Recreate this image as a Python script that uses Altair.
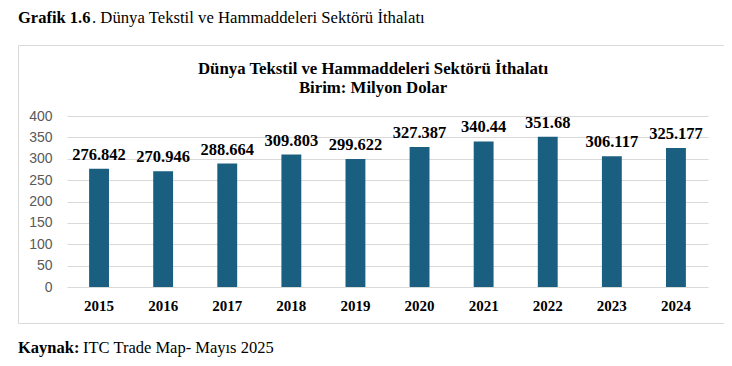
import altair as alt
import pandas as pd

# ---- data ----
years = ["2015", "2016", "2017", "2018", "2019", "2020", "2021", "2022", "2023", "2024"]
values = [276.842, 270.946, 288.664, 309.803, 299.622, 327.387, 340.44, 351.68, 306.117, 325.177]
value_labels = ["276.842", "270.946", "288.664", "309.803", "299.622",
                "327.387", "340.44", "351.68", "306.117", "325.177"]
y_ticks = [0, 50, 100, 150, 200, 250, 300, 350, 400]

page_title_bold = "Grafik 1.6"
page_title_rest = ". Dünya Tekstil ve Hammaddeleri Sektörü İthalatı"
chart_title_1 = "Dünya Tekstil ve Hammaddeleri Sektörü İthalatı"
chart_title_2 = "Birim: Milyon Dolar"
source_bold = "Kaynak:"
source_rest = "ITC Trade Map- Mayıs 2025"

SERIF = "Liberation Serif"
SANS = "Liberation Sans"
BAR = "#1a5e80"
GRID = "#d9d9d9"

df = pd.DataFrame({"year": years, "value": values, "label": value_labels})
one = pd.DataFrame({"d": [0]})

W, H = 641, 171
PAD = {"left": 59, "top": 108, "right": 16, "bottom": 71}

x_enc = alt.X(
    "year:N", sort=years,
    scale=alt.Scale(paddingInner=0.69, paddingOuter=0.345),
    axis=alt.Axis(title=None, labelAngle=0, domain=False, ticks=False, grid=False,
                  labelFont=SERIF, labelFontWeight="bold", labelFontSize=15,
                  labelColor="#000000", labelPadding=11),
)
y_enc = alt.Y(
    "value:Q",
    scale=alt.Scale(domain=[0, 400], nice=False),
    axis=alt.Axis(title=None, values=y_ticks, tickCount=9, domain=False, ticks=False,
                  labelOverlap=False, labelFont=SANS, labelFontSize=14,
                  labelColor="#595959", labelPadding=15,
                  grid=True, gridColor=GRID, gridWidth=1),
)

border = alt.Chart(one).mark_rect(fillOpacity=0, stroke=GRID, strokeWidth=1).encode(
    x=alt.value(-48.5), x2=alt.value(659.5), y=alt.value(-70.5), y2=alt.value(207.5)
)

bars = alt.Chart(df).mark_bar(color=BAR).encode(x=x_enc, y=y_enc)

labels = alt.Chart(df).mark_text(
    font=SERIF, fontWeight="bold", fontSize=16.5, color="#000000",
    baseline="alphabetic", dy=-9
).encode(x=x_enc, y=y_enc, text="label:N")


def txt(s, x, y, size, weight="normal", align="left", font=SERIF):
    return alt.Chart(one).mark_text(
        text=s, font=font, fontSize=size, fontWeight=weight, color="#000000",
        align=align, baseline="middle"
    ).encode(x=alt.value(x), y=alt.value(y))


page_t1 = txt(page_title_bold, -49, -98, 16.5, "bold")
page_t2 = txt(page_title_rest, 25, -98, 16.7)
ct1 = txt(chart_title_1, 306, -47, 16.8, "bold", "center")
ct2 = txt(chart_title_2, 306, -28, 16.8, "bold", "center")
src1 = txt(source_bold, -49, 232, 16.5, "bold")
src2 = txt(source_rest, 16, 232, 16.5)

chart = alt.layer(
    border, bars, labels, page_t1, page_t2, ct1, ct2, src1, src2
).properties(
    width=W, height=H,
    autosize=alt.AutoSizeParams(type="none"),
    padding=PAD,
    background="white",
).configure_view(stroke=None)

chart.save("out.html", embed_options={"renderer": "svg", "actions": False})
